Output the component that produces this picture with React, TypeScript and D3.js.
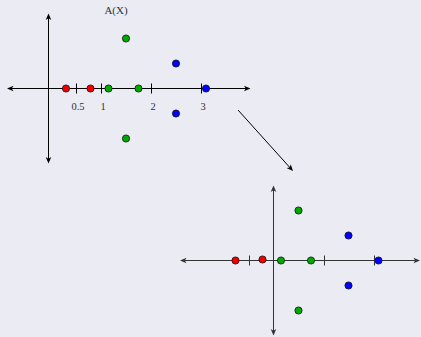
import React from "react";
import * as d3 from "d3";

// eigenvalues before (top) and after the shift (bottom): real part, imaginary part, colour group
const topRe = [0.3, 0.79, 1.15, 1.75, 1.5, 1.5, 2.5, 2.5, 3.1];
const topIm = [0, 0, 0, 0, 1, -1, 0.5, -0.5, 0];
const bottomRe = [-0.76, -0.22, 0.15, 0.75, 0.5, 0.5, 1.5, 1.5, 2.1];
const bottomIm = [0, 0.02, 0, 0, 1, -1, 0.5, -0.5, 0];
const groups = ["r", "r", "g", "g", "g", "g", "b", "b", "b"];

const topTicks = [0.5, 1, 2, 3];
const topTickLabels = ["0.5", "1", "2", "3"];
const bottomTicks = [-0.5, 1, 2];

const W = 421, H = 337;
const colors: Record<string, string> = { r: "#ee0000", g: "#00a800", b: "#0000ff" };

// stealth style arrow head, tip at (x,y) pointing along angle
function head(x: number, y: number, ang: number) {
  const pts: [number, number][] = [[0, 0], [-6.5, -2.8], [-4.8, 0], [-6.5, 2.8]];
  const c = Math.cos(ang), s = Math.sin(ang);
  const p = pts.map(([a, b]) => [x + a * c - b * s, y + a * s + b * c]);
  return "M" + p.map(q => q.join(",")).join("L") + "Z";
}

function Plane(props: {
  x: d3.ScaleLinear<number, number>;
  y: d3.ScaleLinear<number, number>;
  xExt: [number, number];
  yExt: [number, number];
  yAxisAt: number;
  re: number[];
  im: number[];
  ticks: number[];
  labels?: string[];
  stroke: string;
}) {
  const { x, y, xExt, yExt, yAxisAt, re, im, ticks, labels, stroke } = props;
  const x0 = x(xExt[0]), x1 = x(xExt[1]);
  const yb = y(yExt[0]), yt = y(yExt[1]);
  const ax = x(yAxisAt), ay = y(0);
  return (
    <g>
      <line x1={x0 + 3} x2={x1 - 3} y1={ay} y2={ay} stroke={stroke} strokeWidth={1} />
      <path d={head(x1, ay, 0)} fill={stroke} />
      <path d={head(x0, ay, Math.PI)} fill={stroke} />
      <line x1={ax} x2={ax} y1={yb - 3} y2={yt + 3} stroke={stroke} strokeWidth={1} />
      <path d={head(ax, yt, -Math.PI / 2)} fill={stroke} />
      <path d={head(ax, yb, Math.PI / 2)} fill={stroke} />
      {ticks.map((t, i) => (
        <g key={i}>
          <line x1={Math.round(x(t)) + 0.5} x2={Math.round(x(t)) + 0.5} y1={ay - 5} y2={ay + 5} stroke={stroke} strokeWidth={1} />
          {labels && (
            <text x={x(t) + 2} y={110} textAnchor="middle" fontSize={10.5} fontFamily="'Liberation Serif', serif" fill="#333">
              {labels[i]}
            </text>
          )}
        </g>
      ))}
      {re.map((v, i) => (
        <circle key={i} cx={x(v)} cy={y(im[i])} r={3.6} fill={colors[groups[i]]} stroke="#111" strokeWidth={0.8} />
      ))}
    </g>
  );
}

export default function App() {
  const xTop = d3.scaleLinear().domain([0, 1]).range([51, 101]);
  const yTop = d3.scaleLinear().domain([0, 1]).range([88.5, 38.5]);
  const xBot = d3.scaleLinear().domain([0, 1]).range([273.5, 323.5]);
  const yBot = d3.scaleLinear().domain([0, 1]).range([260.5, 210.5]);

  const a0: [number, number] = [238, 110], a1: [number, number] = [293, 171];
  const ang = Math.atan2(a1[1] - a0[1], a1[0] - a0[0]);

  return (
    <svg width={W} height={H} style={{ position: "absolute", left: 0, top: 0 }}>
      <rect width={W} height={H} fill="#ebebf4" />
      <Plane x={xTop} y={yTop} xExt={[-0.88, 3.99]} yExt={[-1.5, 1.5]} yAxisAt={-0.05}
        re={topRe} im={topIm} ticks={topTicks} labels={topTickLabels} stroke="#000" />
      <text x={116} y={14} textAnchor="middle" fontSize={11} fontFamily="'Liberation Serif', serif" fill="#333">A(X)</text>
      <line x1={a0[0]} y1={a0[1]} x2={a1[0] - 4 * Math.cos(ang)} y2={a1[1] - 4 * Math.sin(ang)} stroke="#000" strokeWidth={1} />
      <path d={head(a1[0], a1[1], ang)} fill="#000" />
      <Plane x={xBot} y={yBot} xExt={[-1.87, 2.93]} yExt={[-1.5, 1.5]} yAxisAt={0}
        re={bottomRe} im={bottomIm} ticks={bottomTicks} stroke="#333" />
    </svg>
  );
}
